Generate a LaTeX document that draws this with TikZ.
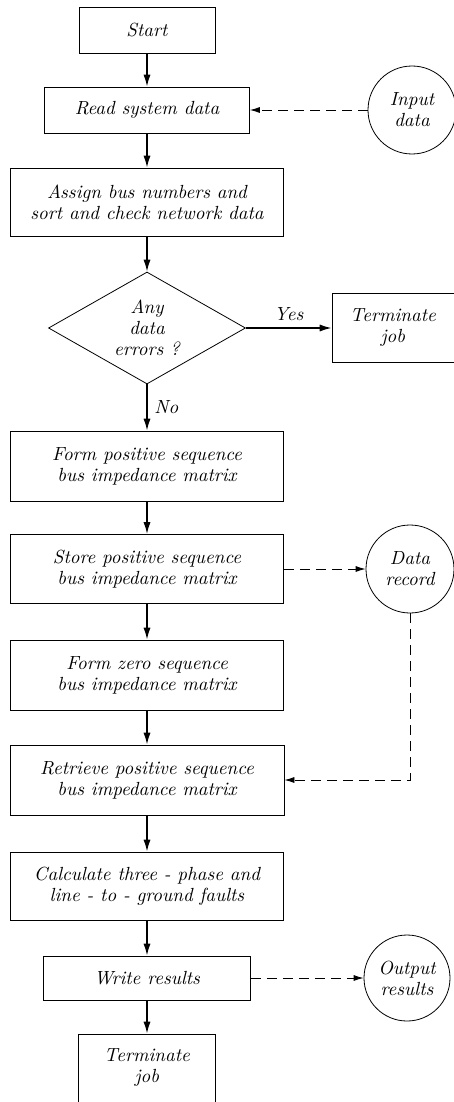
\documentclass[tikz,border=0pt]{standalone}
\usepackage{tikz}
\usetikzlibrary{shapes.geometric, arrows.meta}
\tikzstyle{process} = [rectangle, draw, thin, text centered, align=center, inner sep=2pt]
\tikzstyle{decision} = [diamond, draw, thin, aspect=1.76, text centered, align=center, inner sep=0pt]
\tikzstyle{datafile} = [circle, draw, thin, minimum size=44pt, text centered, align=center, inner sep=0pt]
\tikzstyle{arrow} = [thick,-{Latex[length=6pt,width=3.6pt]}]
\tikzstyle{dataflow} = [thin,-{Latex[length=5pt,width=3pt]},dash pattern=on 5pt off 3pt]

\begin{document}
\begin{tikzpicture}[x=0.5pt, y=-0.5pt, font=\fontsize{9.5}{10.5}\selectfont\itshape]
                 \useasboundingbox (0,0) rectangle (454,1102);
                 \node [process, minimum width=68pt, minimum height=23pt] at (147,30) (start) {Start};
                 \node [process, minimum width=102.5pt, minimum height=23pt] at (147,110) (read) {Read system data};
                 \node [datafile] at (412,110) (input) {Input\\data};
                 \node [process, minimum width=136.5pt, minimum height=34pt] at (147,202) (assign) {Assign bus numbers and\\sort and check network data};
                 \node [decision, minimum width=98.5pt, minimum height=56pt] at (147,328) (check) {Any\\data\\errors ?};
                 \node [process, minimum width=61pt, minimum height=34.5pt] at (393,328) (stop1) {Terminate\\job};
                 \node [process, minimum width=136.5pt, minimum height=35pt] at (147,466) (formpos) {Form positive sequence\\bus impedance matrix};
                 \node [process, minimum width=136.5pt, minimum height=34.5pt] at (147,569) (storepos) {Store positive sequence\\bus impedance matrix};
                 \node [datafile] at (410,569) (record) {Data\\record};
                 \node [process, minimum width=136.5pt, minimum height=35pt] at (147,675) (formzero) {Form zero sequence\\bus impedance matrix};
                 \node [process, minimum width=137pt, minimum height=35pt] at (147,780) (retrieve) {Retrieve positive sequence\\bus impedance matrix};
                 \node [process, minimum width=136.5pt, minimum height=34pt] at (147,886) (calc) {Calculate three - phase and\\line - to - ground faults};
                 \node [process, minimum width=103.5pt, minimum height=22pt] at (147,978) (write) {Write results};
                 \node [datafile, minimum size=43pt] at (407,978) (output) {Output\\results};
                 \node [process, minimum width=68.5pt, minimum height=34pt] at (147,1068) (stop2) {Terminate\\job};
                 \draw [arrow] (start) -- (read);
                 \draw [dataflow] (input) -- (read);
                 \draw [arrow] (read) -- (assign);
                 \draw [arrow] (assign) -- (check);
                 \draw [arrow] (check) -- node[anchor=south] {Yes} (stop1);
                 \draw [arrow] (check) -- node[anchor=west] {No} (formpos);
                 \draw [arrow] (formpos) -- (storepos);
                 \draw [dataflow] (storepos) -- (record);
                 \draw [arrow] (storepos) -- (formzero);
                 \draw [arrow] (formzero) -- (retrieve);
                 \draw [dataflow] (record) |- (retrieve);
                 \draw [arrow] (retrieve) -- (calc);
                 \draw [arrow] (calc) -- (write);
                 \draw [dataflow] (write) -- (output);
                 \draw [arrow] (write) -- (stop2);
                 \end{tikzpicture}
\end{document}
